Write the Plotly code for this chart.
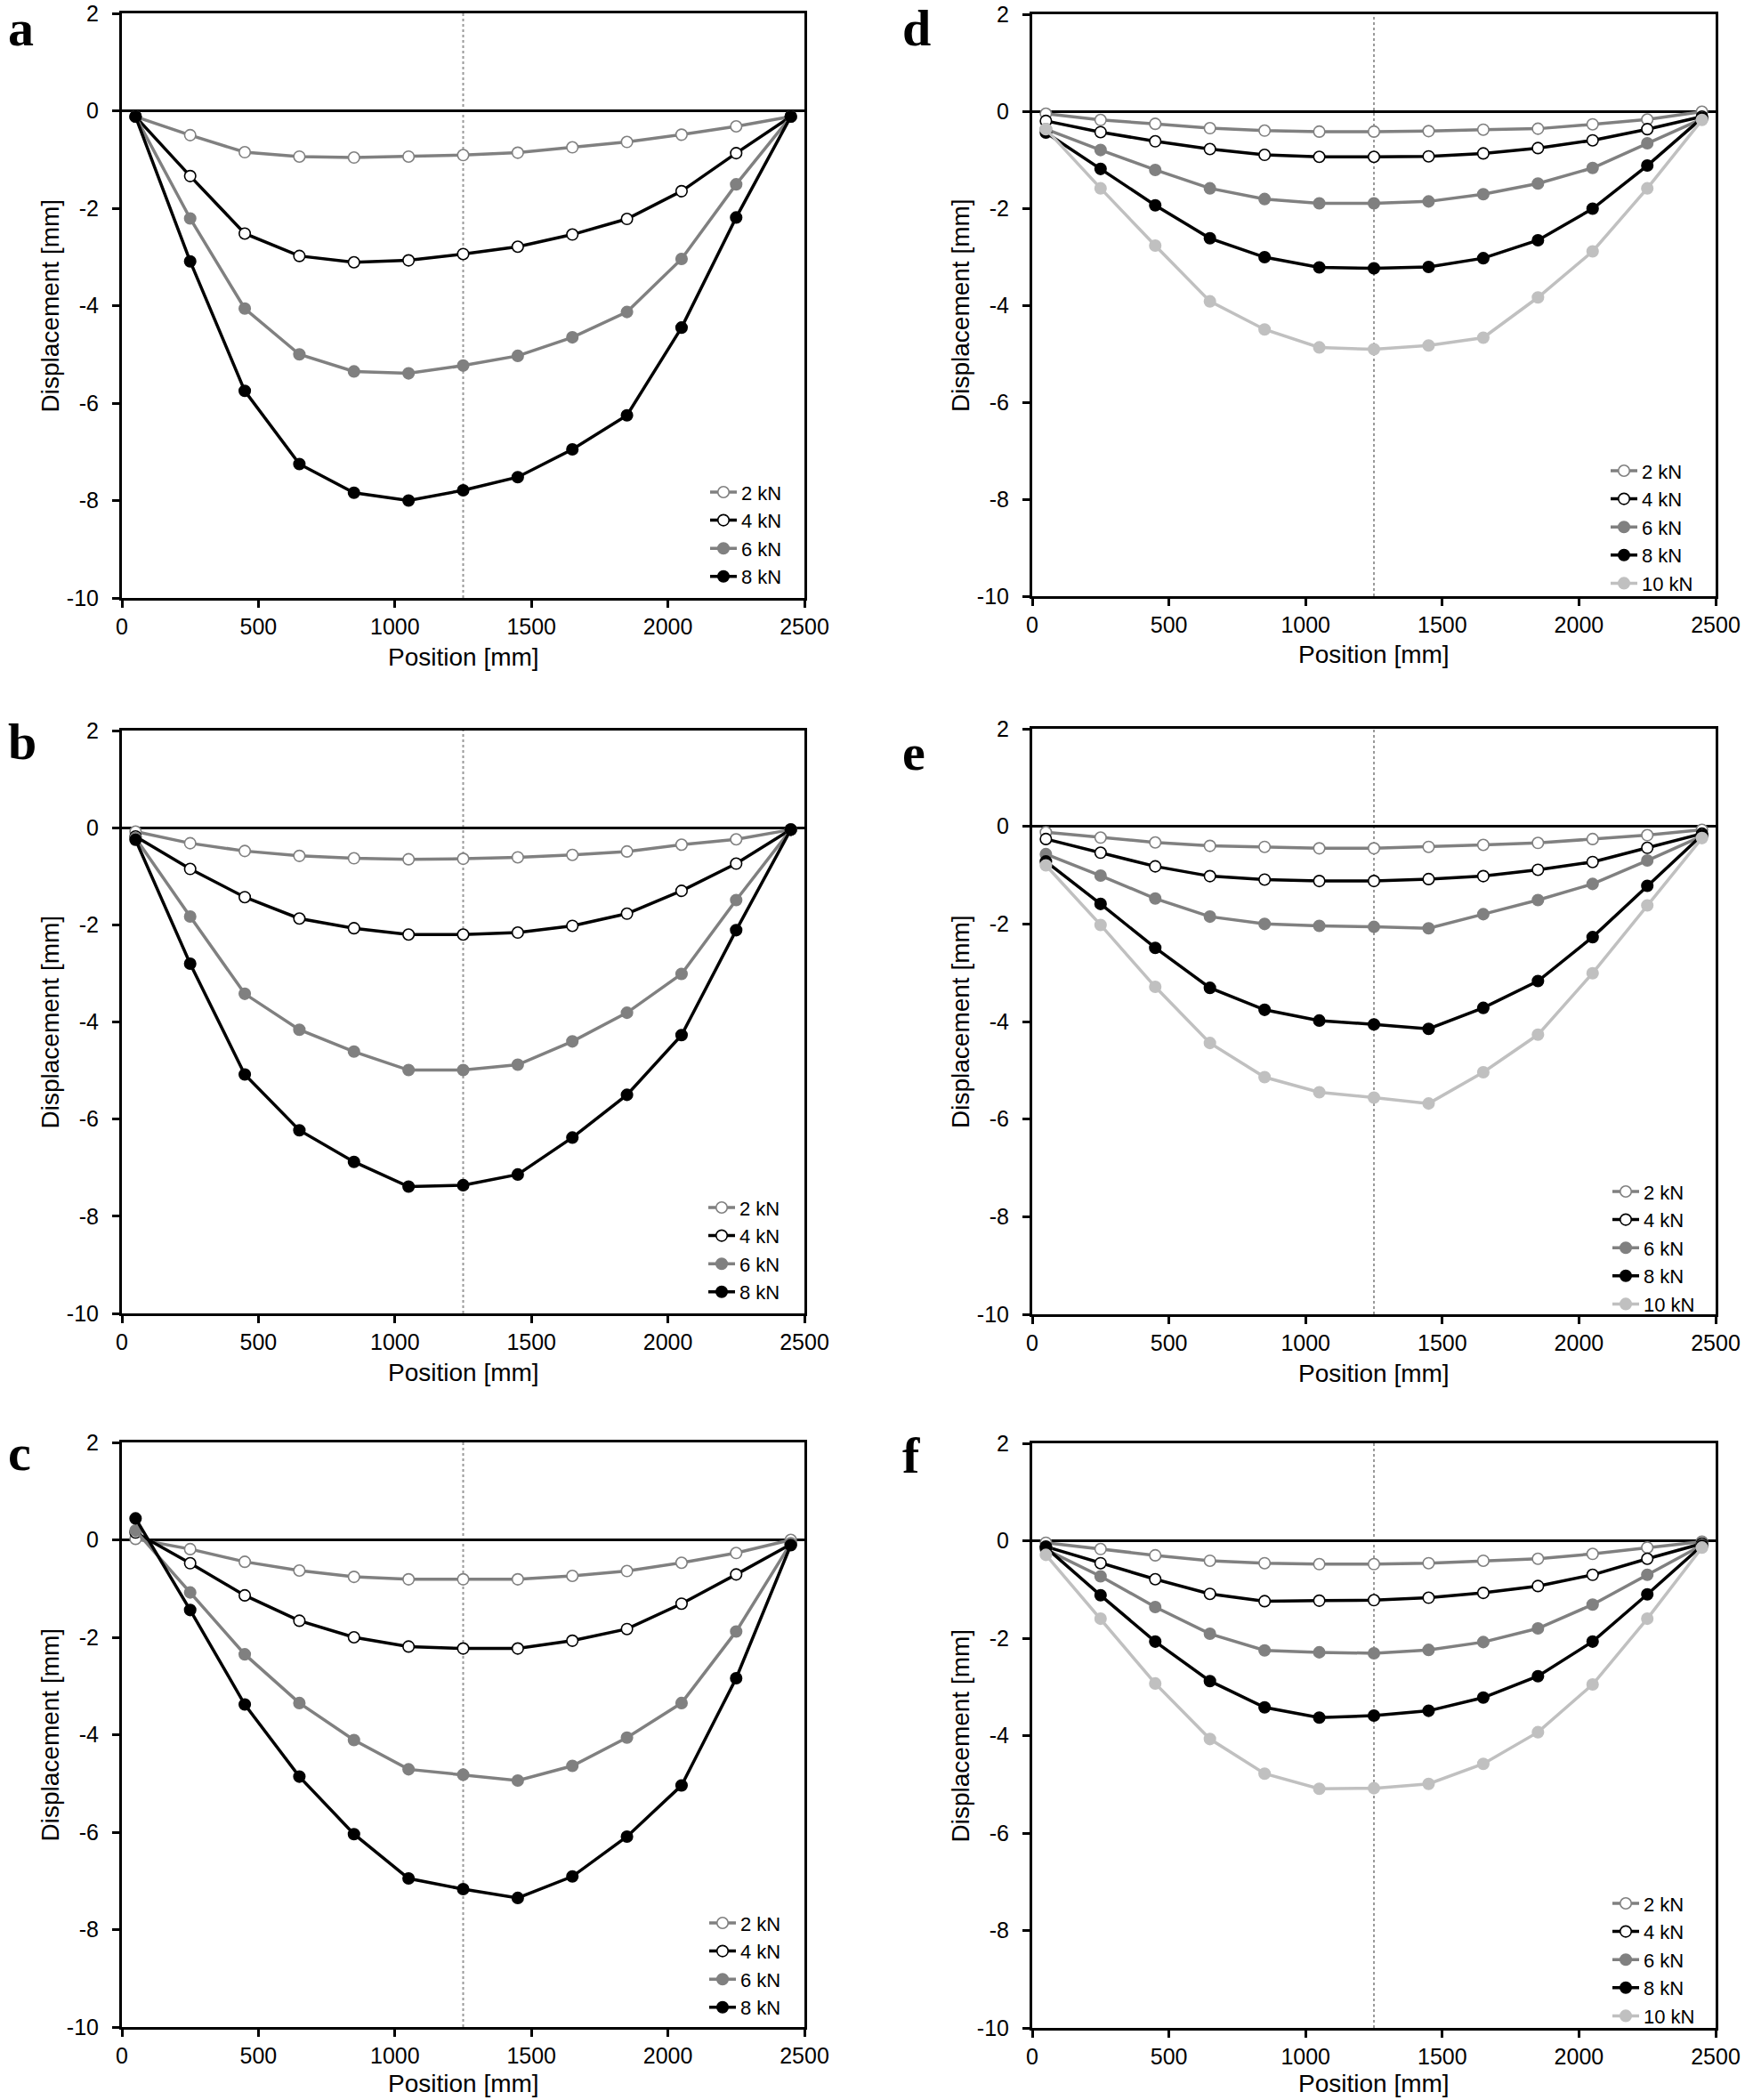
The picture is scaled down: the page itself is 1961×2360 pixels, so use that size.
import plotly.graph_objects as go

# ---------------- data ----------------
POSITION = [50, 250, 450, 650, 850, 1050, 1250, 1450, 1650, 1850, 2050, 2250, 2450]
MIDSPAN = 1250
LOADS = ["2 kN", "4 kN", "6 kN", "8 kN", "10 kN"]
X_TICKS = [0, 500, 1000, 1500, 2000, 2500]
Y_TICKS = [-10, -8, -6, -4, -2, 0, 2]
Y_TICK_LABELS = ["-10", "-8", "-6", "-4", "-2", "0", "2"]
PANEL_LABELS = ["a", "b", "c", "d", "e", "f"]

# panel a
a_2kN = [-0.12, -0.50, -0.85, -0.94, -0.96, -0.94, -0.91, -0.86, -0.75, -0.64, -0.49, -0.32, -0.12]
a_4kN = [-0.12, -1.34, -2.52, -2.98, -3.11, -3.07, -2.94, -2.79, -2.54, -2.22, -1.65, -0.87, -0.12]
a_6kN = [-0.12, -2.21, -4.06, -5.00, -5.35, -5.39, -5.23, -5.03, -4.65, -4.13, -3.04, -1.51, -0.12]
a_8kN = [-0.12, -3.09, -5.75, -7.25, -7.84, -8.00, -7.79, -7.52, -6.95, -6.25, -4.45, -2.19, -0.12]
# panel b
b_2kN = [-0.08, -0.32, -0.48, -0.58, -0.63, -0.65, -0.64, -0.61, -0.56, -0.49, -0.35, -0.24, -0.04]
b_4kN = [-0.18, -0.85, -1.43, -1.87, -2.07, -2.20, -2.20, -2.16, -2.02, -1.77, -1.30, -0.74, -0.04]
b_6kN = [-0.21, -1.83, -3.42, -4.16, -4.61, -4.99, -4.99, -4.88, -4.40, -3.81, -3.01, -1.49, -0.04]
b_8kN = [-0.25, -2.80, -5.08, -6.23, -6.88, -7.39, -7.36, -7.14, -6.38, -5.50, -4.27, -2.11, -0.04]
# panel c
c_2kN = [0.02, -0.19, -0.45, -0.63, -0.76, -0.81, -0.81, -0.81, -0.74, -0.64, -0.47, -0.27, 0.00]
c_4kN = [0.15, -0.48, -1.14, -1.66, -2.00, -2.19, -2.23, -2.23, -2.07, -1.83, -1.31, -0.71, -0.09]
c_6kN = [0.19, -1.08, -2.35, -3.35, -4.11, -4.71, -4.82, -4.94, -4.64, -4.06, -3.35, -1.88, -0.07]
c_8kN = [0.44, -1.44, -3.38, -4.86, -6.04, -6.95, -7.17, -7.35, -6.91, -6.09, -5.04, -2.84, -0.11]
# panel d
d_2kN = [-0.05, -0.18, -0.26, -0.35, -0.40, -0.42, -0.42, -0.41, -0.38, -0.36, -0.27, -0.17, -0.01]
d_4kN = [-0.20, -0.43, -0.62, -0.78, -0.90, -0.94, -0.94, -0.93, -0.87, -0.76, -0.60, -0.37, -0.11]
d_6kN = [-0.37, -0.80, -1.21, -1.59, -1.81, -1.90, -1.90, -1.86, -1.71, -1.49, -1.17, -0.66, -0.16]
d_8kN = [-0.44, -1.19, -1.94, -2.62, -3.01, -3.22, -3.24, -3.21, -3.03, -2.66, -2.01, -1.12, -0.14]
d_10kN = [-0.37, -1.59, -2.77, -3.92, -4.50, -4.87, -4.91, -4.83, -4.67, -3.84, -2.89, -1.59, -0.18]
# panel e
e_2kN = [-0.12, -0.23, -0.33, -0.40, -0.42, -0.45, -0.45, -0.42, -0.38, -0.34, -0.26, -0.18, -0.07]
e_4kN = [-0.26, -0.54, -0.82, -1.02, -1.09, -1.12, -1.12, -1.08, -1.02, -0.89, -0.73, -0.44, -0.15]
e_6kN = [-0.57, -1.01, -1.48, -1.85, -2.00, -2.04, -2.06, -2.09, -1.80, -1.51, -1.18, -0.70, -0.20]
e_8kN = [-0.72, -1.59, -2.49, -3.31, -3.76, -3.98, -4.06, -4.15, -3.72, -3.17, -2.27, -1.22, -0.18]
e_10kN = [-0.80, -2.02, -3.29, -4.44, -5.14, -5.45, -5.56, -5.68, -5.04, -4.27, -3.01, -1.62, -0.24]
# panel f
f_2kN = [-0.04, -0.17, -0.30, -0.41, -0.46, -0.48, -0.48, -0.46, -0.41, -0.37, -0.27, -0.14, -0.02]
f_4kN = [-0.12, -0.46, -0.79, -1.09, -1.24, -1.23, -1.22, -1.17, -1.07, -0.93, -0.70, -0.37, -0.06]
f_6kN = [-0.18, -0.73, -1.36, -1.91, -2.25, -2.29, -2.31, -2.24, -2.08, -1.80, -1.31, -0.70, -0.09]
f_8kN = [-0.14, -1.12, -2.07, -2.88, -3.42, -3.63, -3.59, -3.49, -3.22, -2.78, -2.07, -1.10, -0.10]
f_10kN = [-0.29, -1.60, -2.93, -4.07, -4.78, -5.09, -5.08, -4.99, -4.58, -3.93, -2.95, -1.60, -0.14]

PANEL_SERIES = {
    "a": [a_2kN, a_4kN, a_6kN, a_8kN],
    "b": [b_2kN, b_4kN, b_6kN, b_8kN],
    "c": [c_2kN, c_4kN, c_6kN, c_8kN],
    "d": [d_2kN, d_4kN, d_6kN, d_8kN, d_10kN],
    "e": [e_2kN, e_4kN, e_6kN, e_8kN, e_10kN],
    "f": [f_2kN, f_4kN, f_6kN, f_8kN, f_10kN],
}

# ---------------- styling / layout ----------------
W, H = 1961, 2360
GRAY = "#808080"
BLACK = "#000000"
LIGHT = "#c0c0c0"
STYLES = [  # (line colour, marker fill, marker outline)
    (GRAY, "white", GRAY),
    (BLACK, "white", BLACK),
    (GRAY, GRAY, GRAY),
    (BLACK, BLACK, BLACK),
    (LIGHT, LIGHT, LIGHT),
]
FONT = "Liberation Sans, Arial, sans-serif"

# plot boxes in pixels: left, right, top, bottom
BOXES = {
    "a": (137, 904, 15, 672),
    "b": (137, 904, 821, 1476),
    "c": (137, 904, 1621, 2278),
    "d": (1160, 1928, 16, 670),
    "e": (1160, 1928, 819, 1477),
    "f": (1160, 1928, 1622, 2279),
}
LEGEND_FIRST = {"a": 552, "b": 1356, "c": 2160, "d": 528, "e": 1338, "f": 2138}
LEGEND_TEXT_X = {"a": 833, "b": 831, "c": 832, "d": 1845, "e": 1847, "f": 1847}
# left edge, top of text box (px)
LABEL_POS = {"a": (8, -2), "b": (8, 800), "c": (8, 1599), "d": (1013, -2), "e": (1013, 812), "f": (1013, 1602)}
LEG_FONT = 22


def px_x(v):
    return v / W


def px_y(v):
    return 1 - v / H


fig = go.Figure()
annotations = []
shapes = []

for i, key in enumerate(PANEL_LABELS):
    l, r, t, b = BOXES[key]
    ax_suffix = "" if i == 0 else str(i + 1)
    xname, yname = "x" + ax_suffix, "y" + ax_suffix
    legname = "legend" + ax_suffix

    for j, series in enumerate(PANEL_SERIES[key]):
        lc, mf, mo = STYLES[j]
        fig.add_trace(go.Scatter(
            x=POSITION, y=series, name=LOADS[j], mode="lines+markers",
            line=dict(color=lc, width=3.5),
            marker=dict(symbol="circle", size=12.5, color=mf, line=dict(color=mo, width=1.6)),
            xaxis=xname, yaxis=yname, legend=legname, cliponaxis=False,
        ))

    axis_common = dict(
        showline=True, linecolor="black", linewidth=3, mirror=True,
        ticks="outside", ticklen=8, tickwidth=2.5, tickcolor="black",
        showgrid=False, automargin=False,
        tickfont=dict(family=FONT, size=25, color="black"),
    )
    item_h = LEG_FONT * 1.3 + 3
    fig.update_layout(**{
        "xaxis" + ax_suffix: dict(
            domain=[px_x(l), px_x(r)], range=[0, 2500], tickvals=X_TICKS,
            anchor=yname, zeroline=False, **axis_common),
        "yaxis" + ax_suffix: dict(
            domain=[px_y(b), px_y(t)], range=[-10, 2], tickvals=Y_TICKS,
            ticktext=Y_TICK_LABELS, ticklabelstandoff=10,
            anchor=xname, zeroline=True, zerolinecolor="black", zerolinewidth=3,
            **axis_common),
        legname: dict(
            x=px_x(LEGEND_TEXT_X[key] - 40), y=px_y(LEGEND_FIRST[key] - item_h / 2 - 4),
            xanchor="left", yanchor="top", bgcolor="rgba(0,0,0,0)",
            font=dict(family=FONT, size=LEG_FONT, color="black"),
            itemwidth=30, tracegroupgap=0, borderwidth=0,
        ),
    })

    # mid-span reference line
    shapes.append(dict(type="line", xref=xname, yref=yname, x0=MIDSPAN, x1=MIDSPAN,
                       y0=Y_TICKS[0], y1=Y_TICKS[-1], layer="below",
                       line=dict(color="#9a9a9a", width=2, dash="dot")))

    # axis titles
    title_y = min(b + 66, H - 19)
    annotations.append(dict(text="Position [mm]", xref="paper", yref="paper",
                            x=px_x((l + r) / 2), y=px_y(title_y), xanchor="center", yanchor="middle",
                            showarrow=False, font=dict(family=FONT, size=28, color="black")))
    annotations.append(dict(text="Displacement [mm]", xref="paper", yref="paper",
                            x=px_x(l - 81), y=px_y((t + b) / 2), xanchor="center", yanchor="middle",
                            textangle=-90, showarrow=False,
                            font=dict(family=FONT, size=28, color="black")))
    # panel label
    lx, ly = LABEL_POS[key]
    annotations.append(dict(text="<b>%s</b>" % key, xref="paper", yref="paper",
                            x=px_x(lx), y=px_y(ly), xanchor="left", yanchor="top",
                            showarrow=False, borderpad=0,
                            font=dict(family="Liberation Serif, Times New Roman, serif", size=58, color="black")))

fig.update_layout(
    width=W, height=H, margin=dict(l=0, r=0, t=0, b=0, autoexpand=False),
    paper_bgcolor="white", plot_bgcolor="white",
    annotations=annotations, shapes=shapes,
)

fig.write_html("out.html", config={"displayModeBar": False},
               post_script="document.body.style.margin='0';document.body.style.overflow='hidden';")
